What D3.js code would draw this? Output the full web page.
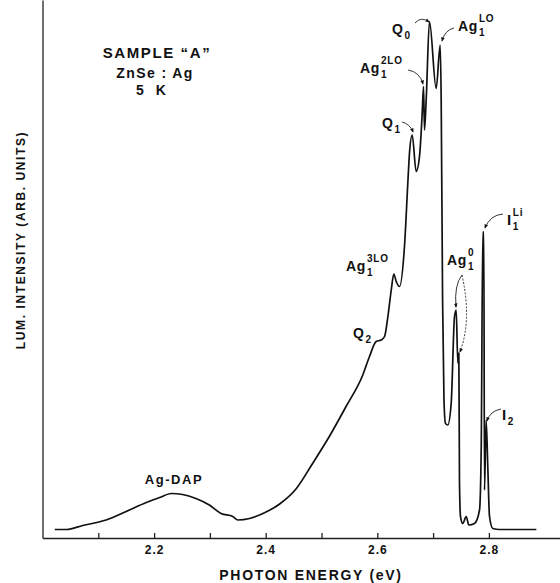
<!DOCTYPE html>
<html>
<head>
<meta charset="utf-8">
<script src="https://cdn.jsdelivr.net/npm/d3@7"></script>
<style>
  body { margin: 0; background: #fff; }
  svg text { font-family: "Liberation Sans", Arial, sans-serif; font-weight: bold; fill: #111; }
</style>
</head>
<body>
<div id="chart"></div>
<script>
// spectrum (photon energy in eV, intensity in arb. units)
var energy = [2.022, 2.043, 2.072, 2.114, 2.150, 2.186, 2.210, 2.231, 2.251, 2.275,
  2.299, 2.320, 2.341, 2.350, 2.371, 2.395, 2.425, 2.455, 2.484, 2.514,
  2.544, 2.574, 2.586, 2.598, 2.607, 2.613, 2.619, 2.625, 2.6296, 2.6339,
  2.6398, 2.6487, 2.6547, 2.6577, 2.6625, 2.6697, 2.6756, 2.6805, 2.6828, 2.6846,
  2.6876, 2.6935, 2.7055, 2.7127, 2.7145, 2.7170, 2.7195, 2.7222, 2.7263, 2.7324,
  2.7384, 2.7414, 2.7443, 2.7461, 2.7473, 2.7491, 2.7532, 2.7593, 2.7640, 2.7742,
  2.7832, 2.7862, 2.7891, 2.7909, 2.7921, 2.7951, 2.7980, 2.8011, 2.8070, 2.8190,
  2.8850];
var intensity = [1.7, 1.7, 2.5, 3.6, 5.3, 7.1, 8.1, 8.9, 8.7, 7.9,
  6.6, 4.9, 4.3, 3.6, 3.9, 4.9, 6.8, 9.9, 14.9, 20.3,
  26.3, 32.6, 36.3, 39.3, 39.6, 40.3, 44.3, 49.6, 52.8, 51.3,
  50.3, 58.3, 71.0, 77.0, 80.6, 73.3, 76.3, 85.0, 90.3, 81.6,
  87.6, 103.3, 89.9, 98.6, 87.6, 47.6, 27.6, 22.9, 22.6, 26.9,
  44.3, 45.6, 35.0, 37.0, 11.0, 4.3, 2.9, 4.3, 2.6, 2.9,
  5.6, 17.6, 61.2, 61.2, 9.6, 23.6, 14.3, 4.3, 1.9, 1.7,
  1.7];

var tickValues = [2.1, 2.2, 2.3, 2.4, 2.5, 2.6, 2.7, 2.8];
var tickLabels = ["", "2.2", "", "2.4", "", "2.6", "", "2.8"];

var svgWidth = 560;
var svgHeight = 583;

var svg = d3.select("#chart")
  .append("svg")
  .attr("width", svgWidth)
  .attr("height", svgHeight);

var x = d3.scaleLinear()
  .domain([2.0, 2.0 + 517.5 / 558])
  .range([42.5, 560]);

var y = d3.scaleLinear()
  .domain([0, 107.6])
  .range([538, 0]);

// axes
var bottomAxis = d3.axisBottom(x)
  .tickValues(tickValues)
  .tickSizeInner(-5)
  .tickSizeOuter(0)
  .tickPadding(7)
  .tickFormat(function(d, i) { return tickLabels[i]; });

var xAxisG = svg.append("g")
  .attr("transform", "translate(0,538)")
  .call(bottomAxis);

xAxisG.selectAll("path, line").attr("stroke", "#222").attr("stroke-width", 1.3);
xAxisG.selectAll("text")
  .attr("font-size", "12px")
  .attr("font-family", null)
  .style("letter-spacing", "1px")
  .attr("fill", "#111");

var leftAxis = d3.axisLeft(y).tickValues([]).tickSizeOuter(0);
var yAxisG = svg.append("g")
  .attr("transform", "translate(42.5,0)")
  .call(leftAxis);
yAxisG.selectAll("path").attr("stroke", "#222").attr("stroke-width", 1.3);

// spectrum
var points = energy.map(function(e, i) { return [e, intensity[i]]; });
var line = d3.line()
  .x(function(d) { return x(d[0]); })
  .y(function(d) { return y(d[1]); })
  .curve(d3.curveMonotoneX);

svg.append("path")
  .datum(points)
  .attr("d", line)
  .attr("fill", "none")
  .attr("stroke", "#111")
  .attr("stroke-width", 1.7)
  .attr("stroke-linejoin", "round");

// axis titles
svg.append("text")
  .attr("x", 311)
  .attr("y", 580)
  .attr("text-anchor", "middle")
  .attr("font-size", "14px")
  .style("letter-spacing", "1.7px")
  .text("PHOTON ENERGY (eV)");

svg.append("text")
  .attr("transform", "translate(25,240) rotate(-90)")
  .attr("text-anchor", "middle")
  .attr("font-size", "12px")
  .style("letter-spacing", "1.6px")
  .text("LUM. INTENSITY (ARB. UNITS)");

// sample info
svg.append("text").attr("x", 157).attr("y", 58).attr("text-anchor", "middle")
  .attr("font-size", "15px").style("letter-spacing", "1.6px").text("SAMPLE \u201CA\u201D");
svg.append("text").attr("x", 155).attr("y", 78).attr("text-anchor", "middle")
  .attr("font-size", "14px").style("letter-spacing", "1.4px").text("ZnSe : Ag");
svg.append("text").attr("x", 153).attr("y", 95).attr("text-anchor", "middle")
  .attr("font-size", "14px").style("letter-spacing", "4px").text("5 K");

svg.append("text").attr("x", 174).attr("y", 484).attr("text-anchor", "middle")
  .attr("font-size", "13px").style("letter-spacing", "1.6px").text("Ag-DAP");

// peak labels: main text with optional sub- and superscript
var peakLabels = [
  { x: 392, y: 34, main: "Q", sub: "0" },
  { x: 458, y: 31, main: "Ag", sub: "1", sup: "LO" },
  { x: 360, y: 73, main: "Ag", sub: "1", sup: "2LO" },
  { x: 382, y: 128, main: "Q", sub: "1" },
  { x: 346, y: 271, main: "Ag", sub: "1", sup: "3LO" },
  { x: 353, y: 338, main: "Q", sub: "2" },
  { x: 447, y: 265, main: "Ag", sub: "1", sup: "0" },
  { x: 507, y: 225, main: "I", sub: "1", sup: "Li", serif: true },
  { x: 502, y: 420, main: "I", sub: "2", serif: true }
];

peakLabels.forEach(function(p) {
  var t = svg.append("text")
    .attr("x", p.x)
    .attr("y", p.y)
    .attr("font-size", "14px")
    .style("letter-spacing", "0.6px")
    .text(p.main);
  if (p.serif) t.attr("font-family", "'Liberation Serif', serif").attr("font-size", "15px");
  var w = t.node().getComputedTextLength() + 1;
  if (p.sub) {
    svg.append("text")
      .attr("x", p.x + w)
      .attr("y", p.y + 5)
      .attr("font-size", "10px")
      .text(p.sub);
  }
  if (p.sup) {
    svg.append("text")
      .attr("x", p.x + w)
      .attr("y", p.y - 9)
      .attr("font-size", "10px")
      .style("letter-spacing", "0.8px")
      .text(p.sup);
  }
});

// arrows from labels to peaks
svg.append("defs").append("marker")
  .attr("id", "head")
  .attr("viewBox", "0 0 10 10")
  .attr("refX", 8)
  .attr("refY", 5)
  .attr("markerWidth", 5)
  .attr("markerHeight", 5)
  .attr("orient", "auto")
  .append("path")
  .attr("d", "M0,1L10,5L0,9z")
  .attr("fill", "#111");

var arrows = [
  [[415, 23], [421, 16], [429, 22]],
  [[454, 28], [445, 30], [442, 41]],
  [[408, 70], [420, 72], [423, 84]],
  [[402, 122], [410, 124], [413, 132]],
  [[503, 214], [490, 215], [485, 228]],
  [[501, 409], [490, 411], [487, 421]],
  [[462, 275], [454, 285], [456, 307]],
  [[462, 275], [472, 320], [460, 352]]
];

svg.selectAll(".arrow")
  .data(arrows)
  .enter()
  .append("path")
  .attr("class", "arrow")
  .attr("d", function(a) { return "M" + a[0] + "Q" + a[1] + " " + a[2]; })
  .attr("fill", "none")
  .attr("stroke", "#222")
  .attr("stroke-width", 0.9)
  .attr("stroke-dasharray", function(a, i) { return i === 7 ? "2,1.5" : null; })
  .attr("marker-end", "url(#head)");
</script>
</body>
</html>
